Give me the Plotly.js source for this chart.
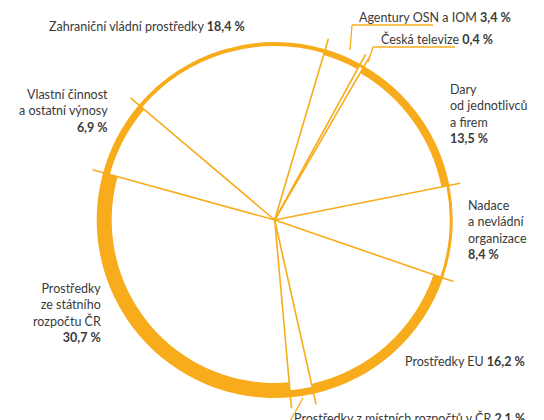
<!DOCTYPE html>
<html><head><meta charset="utf-8">
<script src="https://cdn.plot.ly/plotly-3.0.1.min.js"></script>
<style>html,body{margin:0;padding:0;background:#fff}#chart{width:544px;height:420px}</style>
</head><body><div id="chart"></div>
<script>
// ---- data ----
const categories = ["Agentury OSN a IOM", "Česká televize", "Dary<br>od jednotlivců<br>a firem", "Nadace<br>a nevládní<br>organizace", "Prostředky EU", "Prostředky z místních rozpočtů v ČR", "Prostředky<br>ze státního<br>rozpočtu ČR", "Vlastní činnost<br>a ostatní výnosy", "Zahraniční vládní prostředky"];
const shares = [3.4, 0.4, 13.5, 8.4, 16.2, 2.1, 30.7, 6.9, 18.4];
const ringWidth = [6, 3, 8, 3, 10, 7, 15, 7, 4];   // thickness of the orange band per slice
const pctOnNewLine = [false, false, true, true, false, false, true, true, false];

// ---- layout constants ----
const ORANGE = "#F8AC1B";
const TEXT = "#3a3a3a";
const START = 16.5;     // angle (deg, clockwise from top) of first slice
const R_OUT = 178;
const R_LINE = 189;
const W = 544, H = 420;
// label anchor positions in pixels: [x, y, xanchor, align]
const labelPos = [
  [357, 18, "left", "left"],
  [379, 39, "left", "left"],
  [448, 114, "left", "left"],
  [466, 230, "left", "left"],
  [403, 361, "left", "left"],
  [292, 418, "left", "left"],
  [103, 313, "right", "right"],
  [110, 111, "right", "right"],
  [47, 26, "left", "left"]
];

const widths = shares.map(v => v * 3.6);
const bounds = [START];
widths.forEach(w => bounds.push(bounds[bounds.length - 1] + w));
const mids = widths.map((w, i) => bounds[i] + w / 2);

const ring = {
  type: "barpolar",
  theta: mids,
  width: widths,
  r: ringWidth,
  base: ringWidth.map(t => R_OUT - t),
  marker: {color: ORANGE, line: {width: 0}},
  hoverinfo: "skip"
};

const lr = [], lt = [];
bounds.slice(0, -1).forEach(b => { lr.push(0, R_LINE, null); lt.push(b, b, null); });
const lines = {
  type: "scatterpolar", mode: "lines",
  r: lr, theta: lt,
  line: {color: ORANGE, width: 1.6},
  hoverinfo: "skip"
};

const fmt = v => v.toFixed(1).replace(".", ",") + " %";
const annotations = categories.map((c, i) => {
  const p = labelPos[i];
  return {
    xref: "paper", yref: "paper",
    x: p[0] / W, y: 1 - p[1] / H,
    xanchor: p[2], yanchor: "middle", align: p[3],
    showarrow: false,
    text: c + (pctOnNewLine[i] ? "<br>" : " ") + "<b>" + fmt(shares[i]) + "</b>",
    font: {family: "Lato, 'Noto Sans', sans-serif", size: 12.5, color: TEXT}
  };
});

const px = (x) => x / W, py = (y) => 1 - y / H;
const seg = (x0, y0, x1, y1) => ({type: "line", xref: "paper", yref: "paper",
  x0: px(x0), y0: py(y0), x1: px(x1), y1: py(y1), line: {color: ORANGE, width: 1.3}});
const shapes = [
  seg(350, 50, 352, 25), seg(352, 25, 433, 25),
  seg(368, 62, 373, 47), seg(373, 47, 455, 47),
  seg(303, 398, 289, 423)
];

const cx = 274.7, cy = 220, rad = 190;
const layout = {
  width: W, height: H,
  margin: {l: 0, r: 0, t: 0, b: 0},
  paper_bgcolor: "#fff",
  showlegend: false,
  hovermode: false,
  polar: {
    domain: {x: [(cx - rad) / W, (cx + rad) / W], y: [1 - (cy + rad) / H, 1 - (cy - rad) / H]},
    bgcolor: "rgba(0,0,0,0)",
    radialaxis: {visible: false, range: [0, rad], showgrid: false},
    angularaxis: {visible: false, rotation: 90, direction: "clockwise", showgrid: false}
  },
  annotations: annotations,
  shapes: shapes
};

Plotly.newPlot("chart", [ring, lines], layout, {displayModeBar: false, staticPlot: true});
</script>
</body></html>
